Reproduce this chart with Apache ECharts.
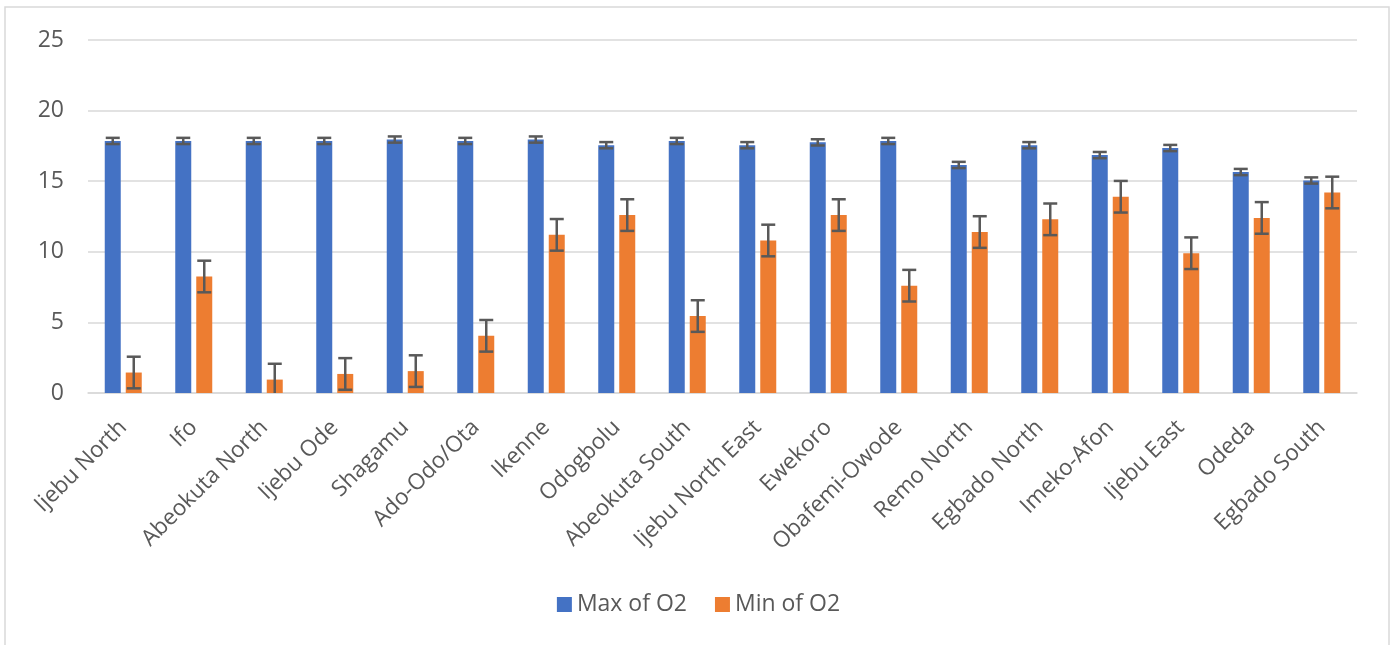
<!DOCTYPE html>
<html>
<head>
<meta charset="utf-8">
<script src="https://cdn.jsdelivr.net/npm/echarts@6/dist/echarts.min.js"></script>
<style>
html,body{margin:0;padding:0;background:#fff;}
#chart{width:1397px;height:645px;}
</style>
</head>
<body>
<div id="chart"></div>
<script>
const categories = ['Ijebu North','Ifo','Abeokuta North','Ijebu Ode','Shagamu','Ado-Odo/Ota','Ikenne','Odogbolu','Abeokuta South','Ijebu North East','Ewekoro','Obafemi-Owode','Remo North','Egbado North','Imeko-Afon','Ijebu East','Odeda','Egbado South'];
const maxO2 = [17.85,17.85,17.85,17.85,17.95,17.85,17.95,17.55,17.85,17.55,17.75,17.85,16.15,17.55,16.85,17.35,15.65,15.05];
const minO2 = [1.45,8.25,0.95,1.35,1.55,4.05,11.2,12.6,5.45,10.8,12.6,7.6,11.4,12.3,13.9,9.9,12.4,14.2];
const maxErr = [0.22,0.22,0.22,0.22,0.22,0.22,0.22,0.22,0.22,0.22,0.22,0.22,0.22,0.22,0.22,0.22,0.22,0.22];
const minErr = [1.12,1.12,1.12,1.12,1.12,1.12,1.12,1.12,1.12,1.12,1.12,1.12,1.12,1.12,1.12,1.12,1.12,1.12];
const seriesNames = ['Max of O2','Min of O2'];
const yTicks = {min:0, max:25, interval:5};

const BAR_W = 16, GAP = 5, CAP = 14;
function errRender(values, errs, side) {
  return function (params, api) {
    const i = api.value(0);
    const v = values[i], e = errs[i];
    const c = api.coord([i, v]);
    const x = c[0] + side * (BAR_W / 2 + GAP / 2);
    const top = api.coord([i, v + e])[1];
    const bot = api.coord([i, v - e])[1];
    const st = {stroke:'#595959', lineWidth:2.5};
    return {type:'group', children:[
      {type:'line', shape:{x1:x, y1:top, x2:x, y2:bot}, style:st},
      {type:'line', shape:{x1:x-CAP/2, y1:top, x2:x+CAP/2, y2:top}, style:st},
      {type:'line', shape:{x1:x-CAP/2, y1:bot, x2:x+CAP/2, y2:bot}, style:st}
    ]};
  };
}

const chart = echarts.init(document.getElementById('chart'), null, {renderer:'canvas'});
const txt = '#595959';
const font = '"Open Sans", sans-serif';
chart.setOption({
  animation:false,
  textStyle:{fontFamily:font},
  graphic:[{type:'rect', shape:{x:5, y:7, width:1384, height:660}, style:{fill:'none', stroke:'#d9d9d9', lineWidth:1.5}, silent:true}],
  grid:{left:88, right:40, top:40, bottom:252, containLabel:false},
  legend:{
    data:seriesNames, bottom:24, left:'center', itemWidth:15, itemHeight:15, itemGap:28,
    icon:'rect', textStyle:{color:txt, fontSize:23, fontFamily:font}
  },
  xAxis:{
    type:'category', data:categories,
    axisLine:{lineStyle:{color:'#d9d9d9', width:1.5}},
    axisTick:{show:false},
    axisLabel:{rotate:45, color:txt, fontSize:22.5, margin:31, interval:0, fontFamily:font}
  },
  yAxis:{
    type:'value', min:yTicks.min, max:yTicks.max, interval:yTicks.interval,
    axisLine:{show:false}, axisTick:{show:false},
    axisLabel:{color:txt, fontSize:23, margin:24, fontFamily:font},
    splitLine:{lineStyle:{color:'#d9d9d9', width:1.5}}
  },
  series:[
    {name:seriesNames[0], type:'bar', data:maxO2, barWidth:BAR_W, barGap:(GAP/BAR_W*100)+'%', itemStyle:{color:'#4472C4'}},
    {name:seriesNames[1], type:'bar', data:minO2, barWidth:BAR_W, itemStyle:{color:'#ED7D31'}},
    {type:'custom', clip:true, renderItem:errRender(maxO2, maxErr, -1), data:maxO2.map((v,i)=>[i,v]), z:10, silent:true},
    {type:'custom', clip:true, renderItem:errRender(minO2, minErr, 1), data:minO2.map((v,i)=>[i,v]), z:10, silent:true}
  ]
});
</script>
</body>
</html>
